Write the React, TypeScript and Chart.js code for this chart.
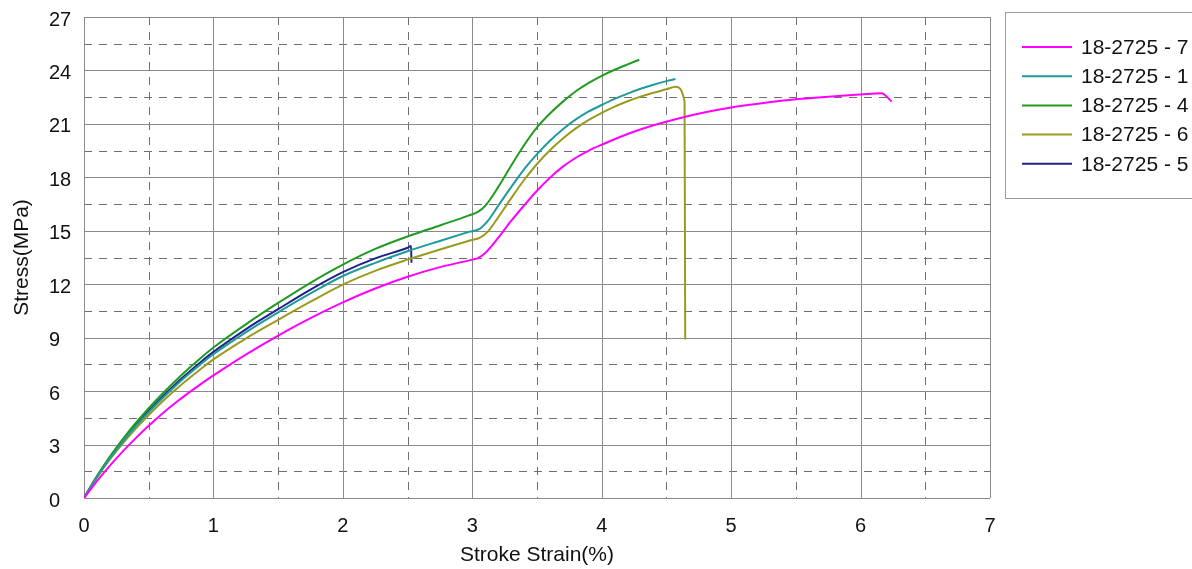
import { useEffect, useRef } from "react";
import { Chart, registerables } from "chart.js";

Chart.register(...registerables);

const FONT = '"Liberation Sans", Arial, Helvetica, sans-serif';

// Specimen labels and line colours (legend order)
const seriesNames = ["18-2725 - 7", "18-2725 - 1", "18-2725 - 4", "18-2725 - 6", "18-2725 - 5"];
const seriesColors = ["#ff00ff", "#209a9a", "#209a20", "#9a9a20", "#20208c"];

// Specimen 18-2725 - 7
const strain7 = [0, 0.1, 0.2, 0.3, 0.4, 0.5, 0.6, 0.7, 0.8, 0.9, 1.0, 1.25, 1.5, 1.75, 2.0, 2.25, 2.5, 2.75, 3.0, 3.04, 3.1, 3.2, 3.3, 3.4, 3.5, 3.6, 3.7, 3.8, 3.9, 4.0, 4.2, 4.4, 4.6, 4.8, 5.0, 5.25, 5.5, 5.75, 6.0, 6.16, 6.24];
const stress7 = [0, 0.95, 1.82, 2.62, 3.36, 4.05, 4.7, 5.3, 5.86, 6.38, 6.88, 8.05, 9.12, 10.1, 10.98, 11.76, 12.42, 12.96, 13.38, 13.45, 13.75, 14.6, 15.55, 16.42, 17.25, 17.98, 18.6, 19.1, 19.5, 19.83, 20.43, 20.92, 21.32, 21.65, 21.92, 22.17, 22.38, 22.53, 22.65, 22.72, 22.26];

// Specimen 18-2725 - 1
const strain1 = [0, 0.1, 0.2, 0.3, 0.4, 0.5, 0.6, 0.7, 0.8, 0.9, 1.0, 1.25, 1.5, 1.75, 2.0, 2.25, 2.5, 2.75, 2.98, 3.06, 3.12, 3.2, 3.3, 3.4, 3.5, 3.6, 3.7, 3.8, 3.9, 4.0, 4.1, 4.2, 4.3, 4.4, 4.5, 4.57];
const stress1 = [0, 1.18, 2.23, 3.17, 4.03, 4.82, 5.56, 6.25, 6.9, 7.5, 8.07, 9.3, 10.42, 11.48, 12.46, 13.2, 13.85, 14.43, 14.95, 15.12, 15.55, 16.4, 17.45, 18.45, 19.3, 20.05, 20.7, 21.25, 21.7, 22.06, 22.4, 22.7, 22.97, 23.2, 23.4, 23.52];

// Specimen 18-2725 - 4
const strain4 = [0, 0.1, 0.2, 0.3, 0.4, 0.5, 0.6, 0.7, 0.8, 0.9, 1.0, 1.25, 1.5, 1.75, 2.0, 2.25, 2.5, 2.75, 2.97, 3.04, 3.1, 3.2, 3.3, 3.4, 3.5, 3.6, 3.7, 3.8, 3.9, 4.0, 4.1, 4.2, 4.29];
const stress4 = [0, 1.23, 2.33, 3.31, 4.21, 5.04, 5.81, 6.53, 7.21, 7.85, 8.45, 9.75, 10.95, 12.08, 13.1, 13.98, 14.68, 15.3, 15.85, 16.05, 16.4, 17.45, 18.65, 19.8, 20.8, 21.58, 22.25, 22.83, 23.3, 23.7, 24.04, 24.34, 24.6];

// Specimen 18-2725 - 6
const strain6 = [0, 0.1, 0.2, 0.3, 0.4, 0.5, 0.6, 0.7, 0.8, 0.9, 1.0, 1.25, 1.5, 1.75, 2.0, 2.25, 2.5, 2.75, 2.98, 3.06, 3.12, 3.2, 3.3, 3.4, 3.5, 3.6, 3.7, 3.8, 3.9, 4.0, 4.1, 4.2, 4.3, 4.4, 4.5, 4.57, 4.64, 4.645];
const stress6 = [0, 1.14, 2.16, 3.07, 3.9, 4.66, 5.37, 6.03, 6.65, 7.23, 7.78, 8.95, 10.0, 11.02, 11.98, 12.75, 13.38, 13.95, 14.45, 14.62, 14.95, 15.75, 16.82, 17.85, 18.75, 19.52, 20.18, 20.75, 21.22, 21.62, 21.97, 22.27, 22.53, 22.75, 22.94, 23.08, 22.28, 8.9];

// Specimen 18-2725 - 5
const strain5 = [0, 0.1, 0.2, 0.3, 0.4, 0.5, 0.6, 0.7, 0.8, 0.9, 1.0, 1.25, 1.5, 1.75, 2.0, 2.25, 2.5, 2.527, 2.53];
const stress5 = [0, 1.2, 2.27, 3.22, 4.1, 4.9, 5.65, 6.35, 7.0, 7.62, 8.2, 9.47, 10.6, 11.7, 12.68, 13.45, 14.05, 14.14, 13.2];

const strainSeries = [strain7, strain1, strain4, strain6, strain5];
const stressSeries = [stress7, stress1, stress4, stress6, stress5];

// Axis ranges and tick steps
const xMin = 0, xMax = 7, xStep = 1;
const yMin = 0, yMax = 27, yStep = 3;
const xTitle = "Stroke Strain(%)";
const yTitle = "Stress(MPa)";

const gridPlugin = {
  id: "strainGrid",
  beforeDatasetsDraw(chart: any) {
    const { ctx, chartArea: a, scales } = chart;
    const xs = scales.x, ys = scales.y;
    const line = (x1: number, y1: number, x2: number, y2: number) => {
      ctx.beginPath();
      ctx.moveTo(x1, y1);
      ctx.lineTo(x2, y2);
      ctx.stroke();
    };
    ctx.save();
    ctx.lineWidth = 1;
    // dashed half-step lines
    ctx.strokeStyle = "#707070";
    ctx.setLineDash([8, 7]);
    for (let v = xMin + xStep / 2; v < xMax; v += xStep) {
      const px = Math.round(xs.getPixelForValue(v)) + 0.5;
      line(px, a.top, px, a.bottom);
    }
    for (let v = yMin + yStep / 2; v < yMax; v += yStep) {
      const py = Math.round(ys.getPixelForValue(v)) + 0.5;
      line(a.left, py, a.right, py);
    }
    // solid major lines
    ctx.setLineDash([]);
    ctx.strokeStyle = "#8a8a8a";
    for (let v = xMin; v <= xMax; v += xStep) {
      const px = Math.round(xs.getPixelForValue(v)) + 0.5;
      line(px, a.top, px, a.bottom);
    }
    for (let v = yMin; v <= yMax; v += yStep) {
      const py = Math.round(ys.getPixelForValue(v)) + 0.5;
      line(a.left, py, a.right, py);
    }
    ctx.restore();
  },
  afterDraw(chart: any) {
    const { ctx, chartArea: a } = chart;
    ctx.save();
    // axis titles
    ctx.fillStyle = "#111";
    ctx.font = `21px ${FONT}`;
    ctx.textAlign = "center";
    ctx.textBaseline = "middle";
    ctx.fillText(xTitle, (a.left + a.right) / 2, 555);
    ctx.translate(22, (a.top + a.bottom) / 2);
    ctx.rotate(-Math.PI / 2);
    ctx.fillText(yTitle, 0, 0);
    ctx.restore();

    // boxed legend on the right
    ctx.save();
    ctx.strokeStyle = "#9a9a9a";
    ctx.lineWidth = 1;
    ctx.strokeRect(1005.5, 12.5, 200, 186);
    ctx.font = `21px ${FONT}`;
    ctx.textAlign = "left";
    ctx.textBaseline = "middle";
    chart.data.datasets.forEach((ds: any, i: number) => {
      const yy = 47 + i * 29.2;
      ctx.strokeStyle = ds.borderColor;
      ctx.lineWidth = 2;
      ctx.beginPath();
      ctx.moveTo(1022, yy);
      ctx.lineTo(1072, yy);
      ctx.stroke();
      ctx.fillStyle = "#111";
      ctx.fillText(ds.label, 1081, yy + 1);
    });
    ctx.restore();
  },
};

export default function App() {
  const canvasRef = useRef<HTMLCanvasElement | null>(null);

  useEffect(() => {
    const canvas = canvasRef.current;
    if (!canvas) return;
    const datasets = seriesNames.map((name, i) => ({
      label: name,
      data: strainSeries[i].map((s, j) => ({ x: s, y: stressSeries[i][j] })),
      borderColor: seriesColors[i],
      backgroundColor: seriesColors[i],
      borderWidth: 2,
      pointRadius: 0,
      fill: false,
      cubicInterpolationMode: "monotone" as const,
    }));
    const chart = new Chart(canvas, {
      type: "line",
      data: { datasets },
      options: {
        animation: false,
        responsive: false,
        events: [],
        layout: { padding: { left: 49, top: 17, right: 202, bottom: 0 } },
        plugins: {
          legend: { display: false },
          tooltip: { enabled: false },
        },
        scales: {
          x: {
            type: "linear",
            min: xMin,
            max: xMax,
            ticks: {
              stepSize: xStep,
              padding: 8,
              color: "#111",
              font: { family: FONT, size: 20 },
            },
            grid: { display: false },
            border: { display: false },
            afterFit: (s: any) => {
              s.height = 71;
            },
          },
          y: {
            type: "linear",
            min: yMin,
            max: yMax,
            ticks: {
              stepSize: yStep,
              padding: 0,
              crossAlign: "far",
              labelOffset: 3,
              color: "#111",
              font: { family: FONT, size: 20 },
            },
            grid: { display: false },
            border: { display: false },
            afterFit: (s: any) => {
              s.width = 35;
            },
          },
        },
      },
      plugins: [gridPlugin],
    });
    return () => chart.destroy();
  }, []);

  return (
    <div style={{ position: "fixed", left: 0, top: 0, width: 1192, height: 569, background: "#fff" }}>
      <canvas ref={canvasRef} width={1192} height={569} style={{ display: "block" }} />
    </div>
  );
}
